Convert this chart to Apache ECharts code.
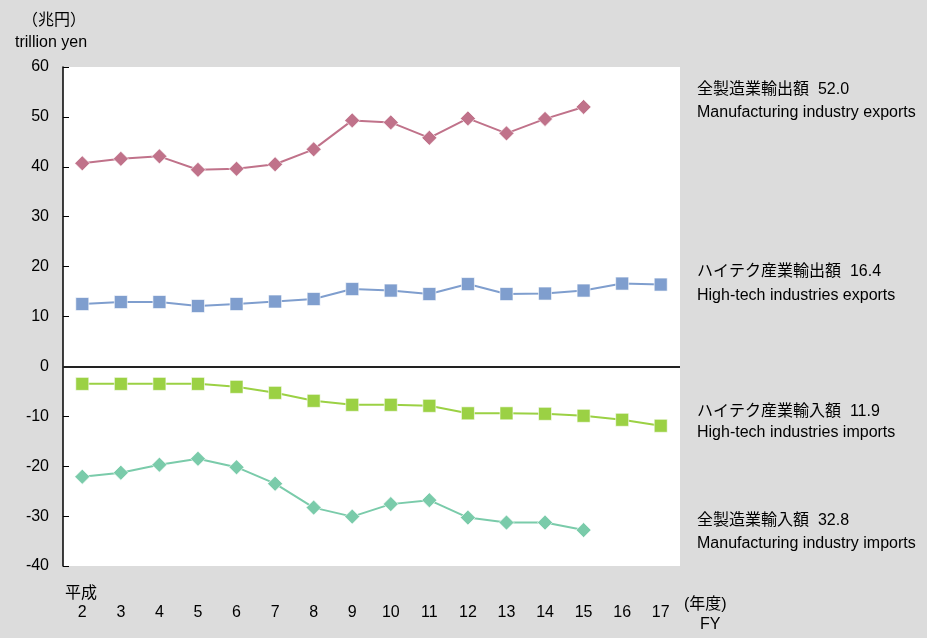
<!DOCTYPE html>
<html>
<head>
<meta charset="utf-8">
<script src="https://cdn.jsdelivr.net/npm/echarts@6/dist/echarts.min.js"></script>
<style>
  html, body { margin: 0; padding: 0; background: #dcdcdc; }
  #chart { width: 927px; height: 638px; }
</style>
</head>
<body>
<div id="chart"></div>
<script>
// 年度（平成）
const years = ["2", "3", "4", "5", "6", "7", "8", "9", "10", "11", "12", "13", "14", "15", "16", "17"];

// 兆円
const mfgExports = [40.7, 41.6, 42.1, 39.4, 39.6, 40.5, 43.5, 49.3, 48.9, 45.8, 49.7, 46.7, 49.6, 52.0];
const hiTechExports = [12.5, 12.9, 12.9, 12.1, 12.5, 13.0, 13.5, 15.5, 15.2, 14.5, 16.5, 14.5, 14.6, 15.2, 16.6, 16.4];
const hiTechImports = [-3.5, -3.5, -3.5, -3.5, -4.1, -5.3, -6.9, -7.7, -7.7, -7.9, -9.4, -9.4, -9.5, -9.9, -10.7, -11.9];
const mfgImports = [-22.1, -21.3, -19.7, -18.5, -20.2, -23.5, -28.3, -30.1, -27.6, -26.8, -30.3, -31.3, -31.3, -32.8];

const yTicks = { min: -40, max: 60, step: 10 };

const seriesLabels = [
  ["全製造業輸出額  52.0", "Manufacturing industry exports"],
  ["ハイテク産業輸出額  16.4", "High-tech industries exports"],
  ["ハイテク産業輸入額  11.9", "High-tech industries imports"],
  ["全製造業輸入額  32.8", "Manufacturing industry imports"]
];

const FONT = "'Liberation Sans', 'Noto Sans CJK JP', sans-serif";

function lineSeries(name, data, color, symbol, size, extra) {
  return Object.assign({
    name,
    type: "line",
    data,
    symbol,
    symbolSize: size,
    showSymbol: true,
    lineStyle: { color, width: 2 },
    itemStyle: { color, borderColor: "rgba(255,255,255,0.6)", borderWidth: 1 },
    emphasis: { disabled: true },
    z: 3
  }, extra || {});
}

// y はおおよそ文字の中心
function txt(x, y, text, size) {
  return {
    type: "text",
    left: x,
    top: y - 6,
    style: {
      text,
      fill: "#000",
      font: size + "px " + FONT
    }
  };
}

const chart = echarts.init(document.getElementById("chart"));

// 右側のラベル位置（中心y）
const labelY = [[88, 111], [270, 294], [410, 431], [519, 542]];
const graphics = [
  txt(22, 19, "（兆円）", 16),
  txt(15, 41, "trillion yen", 16),
  txt(65, 592, "平成", 16),
  txt(684, 603, "(年度)", 16),
  txt(700, 623, "FY", 16)
];
seriesLabels.forEach((pair, i) => {
  graphics.push(txt(697, labelY[i][0], pair[0], 16));
  graphics.push(txt(697, labelY[i][1], pair[1], 16));
});

chart.setOption({
  backgroundColor: "#dcdcdc",
  animation: false,
  grid: {
    left: 63,
    right: 247,
    top: 67,
    bottom: 72,
    show: true,
    backgroundColor: "#ffffff",
    borderWidth: 0
  },
  xAxis: {
    type: "category",
    data: years,
    boundaryGap: true,
    axisLine: { show: false },
    axisTick: { show: false },
    splitLine: { show: false },
    axisLabel: {
      color: "#000",
      fontSize: 16,
      fontFamily: FONT,
      margin: 39,
      interval: 0
    }
  },
  yAxis: {
    type: "value",
    min: yTicks.min,
    max: yTicks.max,
    interval: yTicks.step,
    axisLine: { show: true, lineStyle: { color: "#000", width: 1.5 } },
    axisTick: { show: true, inside: true, length: 6, lineStyle: { color: "#000" } },
    splitLine: { show: false },
    axisLabel: {
      color: "#000",
      fontSize: 16,
      fontFamily: FONT,
      margin: 14
    }
  },
  series: [
    lineSeries("全製造業輸出額", mfgExports, "#c0728a", "diamond", 15),
    lineSeries("ハイテク産業輸出額", hiTechExports, "#7f9ece", "rect", 13),
    lineSeries("ハイテク産業輸入額", hiTechImports, "#9bd144", "rect", 13),
    lineSeries("全製造業輸入額", mfgImports, "#7acbaa", "diamond", 15, {
      markLine: {
        silent: true,
        symbol: "none",
        label: { show: false },
        lineStyle: { color: "#222", width: 2, type: "solid" },
        data: [{ yAxis: 0 }],
        z: 2
      }
    })
  ],
  graphic: graphics
});
</script>
</body>
</html>
